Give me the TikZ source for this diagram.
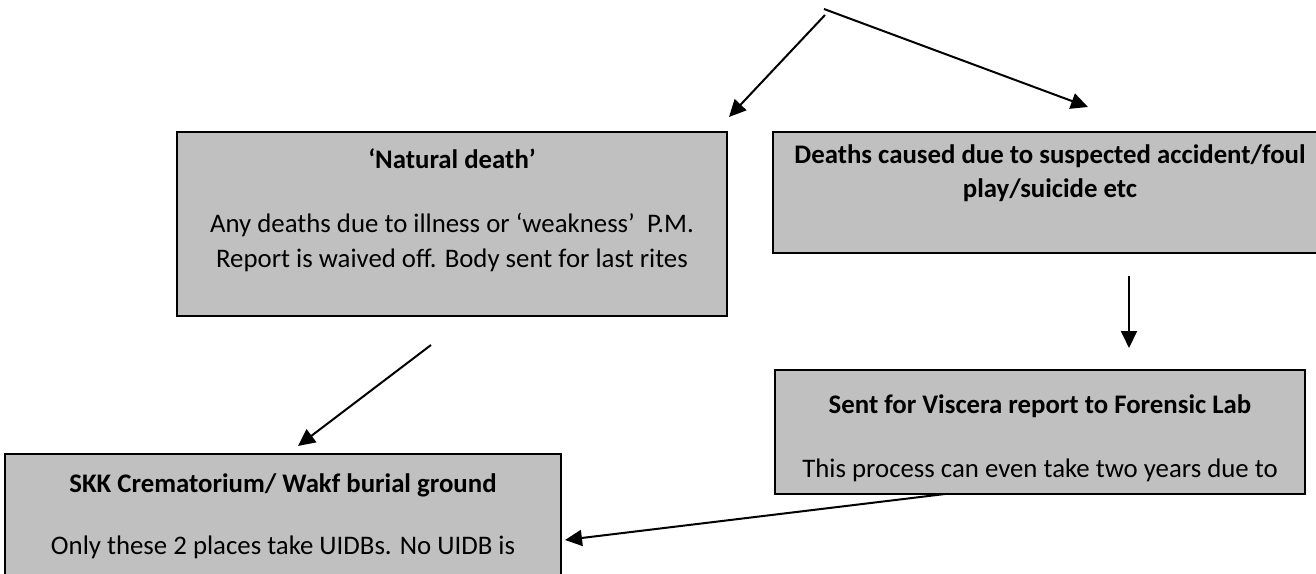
\documentclass[tikz,border=0pt]{standalone}
\usepackage{fontspec}
\setmainfont{Carlito}
\usetikzlibrary{arrows.meta,calc}
\definecolor{boxgray}{HTML}{C0C0C0}
\tikzset{
  box/.style={draw=black, fill=boxgray, line width=0.8pt, anchor=north west, inner sep=0pt, outer sep=0pt},
  ttl/.style={anchor=base, font=\fontsize{13.4}{16}\selectfont\bfseries, inner sep=0pt},
  txt/.style={anchor=base, font=\fontsize{13.4}{16}\selectfont, inner sep=0pt},
  arr/.style={line width=1pt, -{Triangle[length=8.5pt,width=8pt]}}
}
\begin{document}
\begin{tikzpicture}[x=0.5pt,y=-0.5pt]
\useasboundingbox (0,0) rectangle (1316,573);
\clip (0,0) rectangle (1316,573);
% boxes
\node[box, minimum width=275pt, minimum height=92pt] (b1) at (177,132) {};
\node[box, minimum width=276pt, minimum height=60.5pt] (b2) at (773,132) {};
\node[box, minimum width=265pt, minimum height=62pt] (b3) at (775,370) {};
\node[box, minimum width=278pt, minimum height=80pt] (b4) at (5,454) {};
% texts
\node[ttl] (t1) at (452,168) {‘Natural death’};
\node[txt] (t1a) at (452,232) {Any deaths due to illness or ‘weakness’\ \ P.M.};
\node[txt] (t1b) at (452,267) {Report is waived off. Body sent for last rites};
\node[ttl] (t2a) at (1050,163) {Deaths caused due to suspected accident/foul};
\node[ttl] (t2b) at (1050,197) {play/suicide etc};
\node[ttl] (t3) at (1040,413) {Sent for Viscera report to Forensic Lab};
\node[txt] (t3a) at (1040,477) {This process can even take two years due to};
\node[ttl] (t4) at (283,492) {SKK Crematorium/ Wakf burial ground};
\node[txt] (t4a) at (283,554) {Only these 2 places take UIDBs. No UIDB is};
% connector ends
\coordinate (s1) at (825,15);
\coordinate (e1) at (729,117);
\coordinate (s2) at (824,9);
\coordinate (e2) at (1088,107);
\coordinate (s3) at (1129,276);
\coordinate (e3) at (1129,348);
\coordinate (s4) at (431,345);
\coordinate (e4) at (298,446);
\coordinate (s5) at ($(b3.south west)+(170,0)$);
\coordinate (e5) at (565,540);
\draw[arr] (s1) -- (e1);
\draw[arr] (s2) -- (e2);
\draw[arr] (s3) -- (e3);
\draw[arr] (s4) -- (e4);
\draw[arr] (s5) -- (e5);
\end{tikzpicture}
\end{document}
